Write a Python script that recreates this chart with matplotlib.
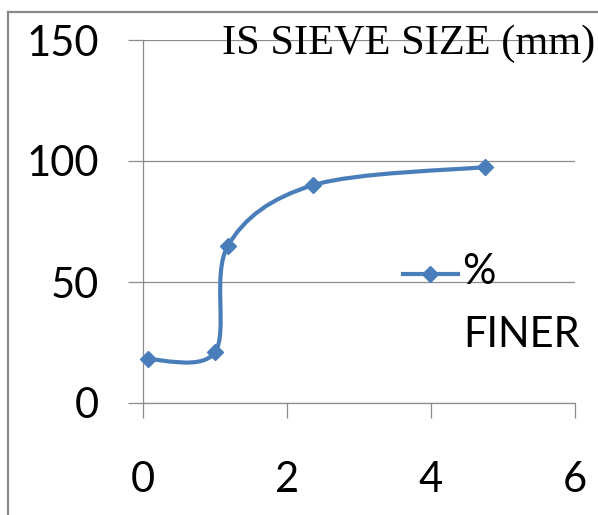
import matplotlib
matplotlib.use("Agg")
import matplotlib.pyplot as plt
import numpy as np
from matplotlib.path import Path
from matplotlib.patches import PathPatch
from matplotlib.lines import Line2D

# data
sieve_size = [0.075, 1.0, 1.18, 2.36, 4.75]
pct_finer = [18, 21, 65, 90, 97.5]
x_ticks = [0, 2, 4, 6]
y_ticks = [0, 50, 100, 150]
title_text = "IS SIEVE SIZE (mm)"
legend_label = ["%", "FINER"]

W, H = 598, 515
DPI = 100
color = "#4A7EBB"
grid_c = "#8C8C8C"

fig = plt.figure(figsize=(W / DPI, H / DPI), dpi=DPI)

def fx(px):
    return px / W

def fy(py):
    return 1 - py / H

ax_l, ax_r, ax_t, ax_b = 143, 575, 40, 403
ax = fig.add_axes([fx(ax_l), fy(ax_b), (ax_r - ax_l) / W, (ax_b - ax_t) / H])
ax.set_xlim(0, 6)
ax.set_ylim(0, 150)
ax.set_xticks(x_ticks)
ax.set_yticks(y_ticks)
ax.set_xticklabels([str(v) for v in x_ticks])
ax.set_yticklabels([str(v) for v in y_ticks])
for s in ["top", "right"]:
    ax.spines[s].set_visible(False)
for s in ["left", "bottom"]:
    ax.spines[s].set_color(grid_c)
    ax.spines[s].set_linewidth(0.9)
ax.yaxis.grid(True, color=grid_c, linewidth=0.9)
ax.set_axisbelow(True)
tick_len = 15 * 72 / DPI
ax.tick_params(axis="both", direction="out", length=tick_len, width=0.9,
               color=grid_c, labelsize=30)
ax.tick_params(axis="y", pad=21)
ax.tick_params(axis="x", pad=31)
for lab in ax.get_xticklabels() + ax.get_yticklabels():
    lab.set_fontfamily("Lato")
    lab.set_color("black")

# Excel-like smoothed line (Catmull-Rom style Bezier in display space)
pts = ax.transData.transform(np.column_stack([sieve_size, pct_finer]))
n = len(pts)
verts = [pts[0]]
codes = [Path.MOVETO]
for i in range(n - 1):
    p0 = pts[i - 1] if i > 0 else pts[i]
    p1 = pts[i]
    p2 = pts[i + 1]
    p3 = pts[i + 2] if i + 2 < n else pts[i + 1]
    c1 = p1 + (p2 - p0) / 6.0
    c2 = p2 - (p3 - p1) / 6.0
    verts += [c1, c2, p2]
    codes += [Path.CURVE4] * 3
verts_data = ax.transData.inverted().transform(np.array(verts))
path = Path(verts_data, codes)
ax.add_patch(PathPatch(path, facecolor="none", edgecolor=color, linewidth=3.0,
                       transform=ax.transData, capstyle="round", clip_on=False))
ax.plot(sieve_size, pct_finer, linestyle="none", marker="D", markersize=8.5,
        color=color, markeredgecolor=color, clip_on=False, zorder=5)

# title text inside plot
fig.text(fx(222), fy(54), title_text, fontfamily="Liberation Serif",
         fontsize=30.5, ha="left", va="baseline", color="black")

# legend
fig.add_artist(Line2D([fx(403), fx(458)], [fy(274), fy(274)], color=color,
                      linewidth=3.0, transform=fig.transFigure))
fig.add_artist(Line2D([fx(430)], [fy(274)], color=color, marker="D",
                      markersize=8.5, transform=fig.transFigure))
fig.text(fx(462), fy(272), legend_label[0], fontfamily="Lato", fontsize=30,
         ha="left", va="center", color="black")
fig.text(fx(463), fy(347), legend_label[1], fontfamily="Lato", fontsize=30,
         ha="left", va="baseline", color="black")

# outer chart frame (partially visible)
fig.add_artist(Line2D([fx(8), fx(W + 5)], [fy(12), fy(12)], color="#8A8A8A",
                      linewidth=1.6, transform=fig.transFigure))
fig.add_artist(Line2D([fx(8), fx(8)], [fy(12), fy(H + 5)], color="#8A8A8A",
                      linewidth=1.6, transform=fig.transFigure))

fig.savefig("out.png", dpi=DPI)
